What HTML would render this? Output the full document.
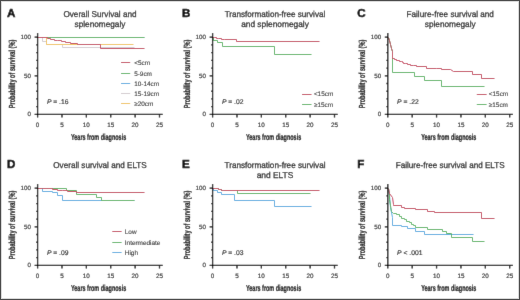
<!DOCTYPE html>
<html><head><meta charset="utf-8"><style>
html,body{margin:0;padding:0;background:#fff;}
body{width:520px;height:300px;overflow:hidden;}
svg{display:block;font-family:"Liberation Sans", sans-serif;will-change:transform;text-rendering:geometricPrecision;}
</style></head><body>
<svg width="520" height="300" viewBox="0 0 520 300">
<defs><filter id="bl" x="0" y="0" width="100%" height="100%"><feConvolveMatrix order="3" kernelMatrix="0.00524 0.06192 0.00524 0.06192 0.73137 0.06192 0.00524 0.06192 0.00524" edgeMode="duplicate" preserveAlpha="true"/></filter></defs>
<rect x="0" y="0" width="520" height="300" fill="#fff"/>
<g filter="url(#bl)">
<rect x="0" y="0" width="520" height="300" fill="#fff"/>
<g transform="translate(0,0)">
<text x="7.1" y="16.8" font-size="11.6" font-weight="bold" fill="#000" stroke="#000" stroke-width="0.5">A</text>
<text x="100" y="17.4" font-size="8.5" text-anchor="middle" fill="#1a1a1a" stroke="#1a1a1a" stroke-width="0.25" textLength="73.2" lengthAdjust="spacingAndGlyphs">Overall Survival and</text>
<text x="100" y="27.0" font-size="8.5" text-anchor="middle" fill="#1a1a1a" stroke="#1a1a1a" stroke-width="0.25" textLength="50.8" lengthAdjust="spacingAndGlyphs">splenomegaly</text>
<text transform="translate(14.5,74.0) rotate(-90)" x="0" y="0" font-size="8.8" font-weight="bold" text-anchor="middle" fill="#111" stroke="#111" stroke-width="0.26" textLength="68.5" lengthAdjust="spacingAndGlyphs">Probability of survival (%)</text>
<text x="98.6" y="139.6" font-size="8.7" font-weight="bold" text-anchor="middle" fill="#111" stroke="#111" stroke-width="0.24" textLength="55.2" lengthAdjust="spacingAndGlyphs">Years from diagnosis</text>
<text x="30.9" y="39.2" font-size="6.2" text-anchor="end" fill="#222" stroke="#222" stroke-width="0.16">100</text>
<text x="30.9" y="77.8" font-size="6.2" text-anchor="end" fill="#222" stroke="#222" stroke-width="0.16">50</text>
<text x="30.9" y="116.4" font-size="6.2" text-anchor="end" fill="#222" stroke="#222" stroke-width="0.16">0</text>
<text x="37.60" y="126.5" font-size="6.3" text-anchor="middle" fill="#222" stroke="#222" stroke-width="0.16">0</text>
<text x="61.98" y="126.5" font-size="6.3" text-anchor="middle" fill="#222" stroke="#222" stroke-width="0.16">5</text>
<text x="86.36" y="126.5" font-size="6.3" text-anchor="middle" fill="#222" stroke="#222" stroke-width="0.16">10</text>
<text x="110.74" y="126.5" font-size="6.3" text-anchor="middle" fill="#222" stroke="#222" stroke-width="0.16">15</text>
<text x="135.12" y="126.5" font-size="6.3" text-anchor="middle" fill="#222" stroke="#222" stroke-width="0.16">20</text>
<text x="159.50" y="126.5" font-size="6.3" text-anchor="middle" fill="#222" stroke="#222" stroke-width="0.16">25</text>
<path d="M 37.50,37.50 H 144.50" fill="none" stroke="#52abe0" stroke-width="0.8"/>
<path d="M 37.50,37.50 H 144.50" fill="none" stroke="#55b45f" stroke-width="1.1"/>
<path d="M 37.50,37.50 H 42.50 V 41.50 H 46.50 V 44.50 H 62.50 V 47.50 H 134.50" fill="none" stroke="#d4ccd0" stroke-width="1.0"/>
<path d="M 37.50,37.50 H 46.50 V 44.50 H 133.50" fill="none" stroke="#f0c55a" stroke-width="1.0"/>
<path d="M 37.50,37.50 H 47.50 V 38.50 H 50.50 V 39.50 H 54.50 V 40.50 H 57.50 V 40.50 H 61.50 V 41.50 H 65.50 V 42.50 H 70.50 V 43.50 H 77.50 V 44.50 H 100.50 V 48.50 H 144.50" fill="none" stroke="#c53a58" stroke-width="1.0"/>
<path d="M37.6,33 V117.5 M34.6,114.4 H162.7 M34.6,114.40 H37.6 M34.6,75.80 H37.6 M34.6,37.20 H37.6 M36.2,106.68 H37.6 M36.2,98.96 H37.6 M36.2,91.24 H37.6 M36.2,83.52 H37.6 M36.2,68.08 H37.6 M36.2,60.36 H37.6 M36.2,52.64 H37.6 M36.2,44.92 H37.6 M61.98,114.4 V117.4 M86.36,114.4 V117.4 M110.74,114.4 V117.4 M135.12,114.4 V117.4 M159.50,114.4 V117.4" fill="none" stroke="#000" stroke-width="1.3"/>
<text x="46.9" y="103.7" font-size="6.75" fill="#1a1a1a" stroke="#1a1a1a" stroke-width="0.15"><tspan font-style="italic">P</tspan> = .16</text>
<path d="M121,62.5 H130.2" stroke="#c53a58" stroke-width="1"/>
<text x="134.2" y="65.3" font-size="6.4" fill="#2a2a2a" stroke="#2a2a2a" stroke-width="0.1">&lt;5cm</text>
<path d="M121,73.5 H130.2" stroke="#55b45f" stroke-width="1"/>
<text x="134.2" y="75.60000000000001" font-size="6.4" fill="#2a2a2a" stroke="#2a2a2a" stroke-width="0.1">5-9cm</text>
<path d="M121,83.5 H130.2" stroke="#52abe0" stroke-width="1"/>
<text x="134.2" y="85.80000000000001" font-size="6.4" fill="#2a2a2a" stroke="#2a2a2a" stroke-width="0.1">10-14cm</text>
<path d="M121,93.5 H130.2" stroke="#d4ccd0" stroke-width="1"/>
<text x="134.2" y="96.10000000000001" font-size="6.4" fill="#2a2a2a" stroke="#2a2a2a" stroke-width="0.1">15-19cm</text>
<path d="M121,103.5 H130.2" stroke="#f0c55a" stroke-width="1"/>
<text x="134.2" y="106.30000000000001" font-size="6.4" fill="#2a2a2a" stroke="#2a2a2a" stroke-width="0.1">≥20cm</text>
</g>
<g transform="translate(175,0)">
<text x="7.1" y="16.8" font-size="11.6" font-weight="bold" fill="#000" stroke="#000" stroke-width="0.5">B</text>
<text x="100" y="17.4" font-size="8.5" text-anchor="middle" fill="#1a1a1a" stroke="#1a1a1a" stroke-width="0.25" textLength="100.6" lengthAdjust="spacingAndGlyphs">Transformation-free survival</text>
<text x="100" y="27.0" font-size="8.5" text-anchor="middle" fill="#1a1a1a" stroke="#1a1a1a" stroke-width="0.25" textLength="67.7" lengthAdjust="spacingAndGlyphs">and splenomegaly</text>
<text transform="translate(14.5,74.0) rotate(-90)" x="0" y="0" font-size="8.8" font-weight="bold" text-anchor="middle" fill="#111" stroke="#111" stroke-width="0.26" textLength="68.5" lengthAdjust="spacingAndGlyphs">Probability of survival (%)</text>
<text x="98.6" y="139.6" font-size="8.7" font-weight="bold" text-anchor="middle" fill="#111" stroke="#111" stroke-width="0.24" textLength="55.2" lengthAdjust="spacingAndGlyphs">Years from diagnosis</text>
<text x="30.9" y="39.2" font-size="6.2" text-anchor="end" fill="#222" stroke="#222" stroke-width="0.16">100</text>
<text x="30.9" y="77.8" font-size="6.2" text-anchor="end" fill="#222" stroke="#222" stroke-width="0.16">50</text>
<text x="30.9" y="116.4" font-size="6.2" text-anchor="end" fill="#222" stroke="#222" stroke-width="0.16">0</text>
<text x="37.60" y="126.5" font-size="6.3" text-anchor="middle" fill="#222" stroke="#222" stroke-width="0.16">0</text>
<text x="61.98" y="126.5" font-size="6.3" text-anchor="middle" fill="#222" stroke="#222" stroke-width="0.16">5</text>
<text x="86.36" y="126.5" font-size="6.3" text-anchor="middle" fill="#222" stroke="#222" stroke-width="0.16">10</text>
<text x="110.74" y="126.5" font-size="6.3" text-anchor="middle" fill="#222" stroke="#222" stroke-width="0.16">15</text>
<text x="135.12" y="126.5" font-size="6.3" text-anchor="middle" fill="#222" stroke="#222" stroke-width="0.16">20</text>
<text x="159.50" y="126.5" font-size="6.3" text-anchor="middle" fill="#222" stroke="#222" stroke-width="0.16">25</text>
<path d="M 37.50,37.50 H 38.50 V 40.50 H 42.50 V 42.50 H 47.50 V 46.50 H 99.50 V 54.50 H 136.50" fill="none" stroke="#55b45f" stroke-width="1.0"/>
<path d="M 37.50,37.50 H 39.50 V 37.50 H 41.50 V 38.50 H 43.50 V 38.50 H 46.50 V 39.50 H 49.50 V 39.50 H 61.50 V 41.50 H 144.50" fill="none" stroke="#c53a58" stroke-width="1.0"/>
<path d="M37.6,33 V117.5 M34.6,114.4 H162.7 M34.6,114.40 H37.6 M34.6,75.80 H37.6 M34.6,37.20 H37.6 M36.2,106.68 H37.6 M36.2,98.96 H37.6 M36.2,91.24 H37.6 M36.2,83.52 H37.6 M36.2,68.08 H37.6 M36.2,60.36 H37.6 M36.2,52.64 H37.6 M36.2,44.92 H37.6 M61.98,114.4 V117.4 M86.36,114.4 V117.4 M110.74,114.4 V117.4 M135.12,114.4 V117.4 M159.50,114.4 V117.4" fill="none" stroke="#000" stroke-width="1.3"/>
<text x="46.9" y="103.7" font-size="6.75" fill="#1a1a1a" stroke="#1a1a1a" stroke-width="0.15"><tspan font-style="italic">P</tspan> = .02</text>
<path d="M127,94.5 H136.5" stroke="#c53a58" stroke-width="1"/>
<text x="138.9" y="96.4" font-size="6.4" fill="#2a2a2a" stroke="#2a2a2a" stroke-width="0.1">&lt;15cm</text>
<path d="M127,104.5 H136.5" stroke="#55b45f" stroke-width="1"/>
<text x="138.9" y="106.80000000000001" font-size="6.4" fill="#2a2a2a" stroke="#2a2a2a" stroke-width="0.1">≥15cm</text>
</g>
<g transform="translate(350.2,0)">
<text x="7.1" y="16.8" font-size="11.6" font-weight="bold" fill="#000" stroke="#000" stroke-width="0.5">C</text>
<text x="100" y="17.4" font-size="8.5" text-anchor="middle" fill="#1a1a1a" stroke="#1a1a1a" stroke-width="0.25" textLength="87.3" lengthAdjust="spacingAndGlyphs">Failure-free survival and</text>
<text x="100" y="27.0" font-size="8.5" text-anchor="middle" fill="#1a1a1a" stroke="#1a1a1a" stroke-width="0.25" textLength="50.8" lengthAdjust="spacingAndGlyphs">splenomegaly</text>
<text transform="translate(14.5,74.0) rotate(-90)" x="0" y="0" font-size="8.8" font-weight="bold" text-anchor="middle" fill="#111" stroke="#111" stroke-width="0.26" textLength="68.5" lengthAdjust="spacingAndGlyphs">Probability of survival (%)</text>
<text x="98.6" y="139.6" font-size="8.7" font-weight="bold" text-anchor="middle" fill="#111" stroke="#111" stroke-width="0.24" textLength="55.2" lengthAdjust="spacingAndGlyphs">Years from diagnosis</text>
<text x="30.9" y="39.2" font-size="6.2" text-anchor="end" fill="#222" stroke="#222" stroke-width="0.16">100</text>
<text x="30.9" y="77.8" font-size="6.2" text-anchor="end" fill="#222" stroke="#222" stroke-width="0.16">50</text>
<text x="30.9" y="116.4" font-size="6.2" text-anchor="end" fill="#222" stroke="#222" stroke-width="0.16">0</text>
<text x="37.60" y="126.5" font-size="6.3" text-anchor="middle" fill="#222" stroke="#222" stroke-width="0.16">0</text>
<text x="61.98" y="126.5" font-size="6.3" text-anchor="middle" fill="#222" stroke="#222" stroke-width="0.16">5</text>
<text x="86.36" y="126.5" font-size="6.3" text-anchor="middle" fill="#222" stroke="#222" stroke-width="0.16">10</text>
<text x="110.74" y="126.5" font-size="6.3" text-anchor="middle" fill="#222" stroke="#222" stroke-width="0.16">15</text>
<text x="135.12" y="126.5" font-size="6.3" text-anchor="middle" fill="#222" stroke="#222" stroke-width="0.16">20</text>
<text x="159.50" y="126.5" font-size="6.3" text-anchor="middle" fill="#222" stroke="#222" stroke-width="0.16">25</text>
<path d="M 38.30,37.50 L 39.30,40.50 L 40.30,44.50 L 41.30,48.50 L 42.30,51.50 V 72.50 H 64.30 V 76.50 H 74.30 V 80.50 H 91.30 V 86.50 H 134.30" fill="none" stroke="#55b45f" stroke-width="1.0"/>
<path d="M 38.30,37.50 L 39.30,40.50 L 40.30,44.50 L 41.30,48.50 L 42.30,51.50 L 42.30,58.50 H 44.30 V 59.50 H 46.30 V 60.50 H 49.30 V 61.50 H 51.30 V 61.50 H 52.30 V 62.50 H 53.30 V 63.50 H 55.30 V 63.50 H 57.30 V 64.50 H 60.30 V 65.50 H 63.30 V 65.50 H 66.30 V 66.50 H 76.30 V 68.50 H 86.30 V 68.50 H 91.30 V 69.50 H 100.30 V 69.50 L 103.30,71.50 H 122.30 V 74.50 H 131.30 V 78.50 H 144.30" fill="none" stroke="#c53a58" stroke-width="1.0"/>
<path d="M37.6,33 V117.5 M34.6,114.4 H162.7 M34.6,114.40 H37.6 M34.6,75.80 H37.6 M34.6,37.20 H37.6 M36.2,106.68 H37.6 M36.2,98.96 H37.6 M36.2,91.24 H37.6 M36.2,83.52 H37.6 M36.2,68.08 H37.6 M36.2,60.36 H37.6 M36.2,52.64 H37.6 M36.2,44.92 H37.6 M61.98,114.4 V117.4 M86.36,114.4 V117.4 M110.74,114.4 V117.4 M135.12,114.4 V117.4 M159.50,114.4 V117.4" fill="none" stroke="#000" stroke-width="1.3"/>
<text x="46.9" y="103.7" font-size="6.75" fill="#1a1a1a" stroke="#1a1a1a" stroke-width="0.15"><tspan font-style="italic">P</tspan> = .22</text>
<path d="M126.6,94.5 H136.4" stroke="#c53a58" stroke-width="1"/>
<text x="138.6" y="96.4" font-size="6.4" fill="#2a2a2a" stroke="#2a2a2a" stroke-width="0.1">&lt;15cm</text>
<path d="M126.6,104.5 H136.4" stroke="#55b45f" stroke-width="1"/>
<text x="138.6" y="106.80000000000001" font-size="6.4" fill="#2a2a2a" stroke="#2a2a2a" stroke-width="0.1">≥15cm</text>
</g>
<g transform="translate(0,151)">
<text x="7.1" y="16.8" font-size="11.6" font-weight="bold" fill="#000" stroke="#000" stroke-width="0.5">D</text>
<text x="100" y="17.4" font-size="8.5" text-anchor="middle" fill="#1a1a1a" stroke="#1a1a1a" stroke-width="0.25" textLength="93.4" lengthAdjust="spacingAndGlyphs">Overall survival and ELTS</text>
<text transform="translate(14.5,74.0) rotate(-90)" x="0" y="0" font-size="8.8" font-weight="bold" text-anchor="middle" fill="#111" stroke="#111" stroke-width="0.26" textLength="68.5" lengthAdjust="spacingAndGlyphs">Probability of survival (%)</text>
<text x="98.6" y="139.6" font-size="8.7" font-weight="bold" text-anchor="middle" fill="#111" stroke="#111" stroke-width="0.24" textLength="55.2" lengthAdjust="spacingAndGlyphs">Years from diagnosis</text>
<text x="30.9" y="39.2" font-size="6.2" text-anchor="end" fill="#222" stroke="#222" stroke-width="0.16">100</text>
<text x="30.9" y="77.8" font-size="6.2" text-anchor="end" fill="#222" stroke="#222" stroke-width="0.16">50</text>
<text x="30.9" y="116.4" font-size="6.2" text-anchor="end" fill="#222" stroke="#222" stroke-width="0.16">0</text>
<text x="37.60" y="126.5" font-size="6.3" text-anchor="middle" fill="#222" stroke="#222" stroke-width="0.16">0</text>
<text x="61.98" y="126.5" font-size="6.3" text-anchor="middle" fill="#222" stroke="#222" stroke-width="0.16">5</text>
<text x="86.36" y="126.5" font-size="6.3" text-anchor="middle" fill="#222" stroke="#222" stroke-width="0.16">10</text>
<text x="110.74" y="126.5" font-size="6.3" text-anchor="middle" fill="#222" stroke="#222" stroke-width="0.16">15</text>
<text x="135.12" y="126.5" font-size="6.3" text-anchor="middle" fill="#222" stroke="#222" stroke-width="0.16">20</text>
<text x="159.50" y="126.5" font-size="6.3" text-anchor="middle" fill="#222" stroke="#222" stroke-width="0.16">25</text>
<path d="M 37.50,37.50 H 42.50 V 40.50 H 52.50 V 41.50 H 57.50 V 44.50 H 62.50 V 49.50 H 134.50" fill="none" stroke="#52abe0" stroke-width="1.0"/>
<path d="M 37.50,37.50 H 66.50 V 39.50 H 76.50 V 43.50 H 96.50 V 46.50 H 101.50 V 49.50 H 134.50" fill="none" stroke="#55b45f" stroke-width="1.0"/>
<path d="M 37.50,37.50 H 42.50 V 37.50 H 47.50 V 37.50 H 52.50 V 38.50 H 57.50 V 39.50 H 62.50 V 39.50 H 67.50 V 40.50 H 76.50 V 41.50 H 144.50" fill="none" stroke="#c53a58" stroke-width="1.0"/>
<path d="M37.6,33 V117.5 M34.6,114.4 H162.7 M34.6,114.40 H37.6 M34.6,75.80 H37.6 M34.6,37.20 H37.6 M36.2,106.68 H37.6 M36.2,98.96 H37.6 M36.2,91.24 H37.6 M36.2,83.52 H37.6 M36.2,68.08 H37.6 M36.2,60.36 H37.6 M36.2,52.64 H37.6 M36.2,44.92 H37.6 M61.98,114.4 V117.4 M86.36,114.4 V117.4 M110.74,114.4 V117.4 M135.12,114.4 V117.4 M159.50,114.4 V117.4" fill="none" stroke="#000" stroke-width="1.3"/>
<text x="46.9" y="103.7" font-size="6.75" fill="#1a1a1a" stroke="#1a1a1a" stroke-width="0.15"><tspan font-style="italic">P</tspan> = .09</text>
<path d="M112.3,80.5 H121.6" stroke="#c53a58" stroke-width="1"/>
<text x="124.8" y="82.9" font-size="6.4" fill="#2a2a2a" stroke="#2a2a2a" stroke-width="0.1">Low</text>
<path d="M112.3,91.5 H121.6" stroke="#55b45f" stroke-width="1"/>
<text x="124.8" y="93.7" font-size="6.4" fill="#2a2a2a" stroke="#2a2a2a" stroke-width="0.1">Intermediate</text>
<path d="M112.3,101.5 H121.6" stroke="#52abe0" stroke-width="1"/>
<text x="124.8" y="103.80000000000001" font-size="6.4" fill="#2a2a2a" stroke="#2a2a2a" stroke-width="0.1">High</text>
</g>
<g transform="translate(175,151)">
<text x="7.1" y="16.8" font-size="11.6" font-weight="bold" fill="#000" stroke="#000" stroke-width="0.5">E</text>
<text x="100" y="17.4" font-size="8.5" text-anchor="middle" fill="#1a1a1a" stroke="#1a1a1a" stroke-width="0.25" textLength="101" lengthAdjust="spacingAndGlyphs">Transformation-free survival</text>
<text x="100" y="27.0" font-size="8.5" text-anchor="middle" fill="#1a1a1a" stroke="#1a1a1a" stroke-width="0.25" textLength="36.7" lengthAdjust="spacingAndGlyphs">and ELTS</text>
<text transform="translate(14.5,74.0) rotate(-90)" x="0" y="0" font-size="8.8" font-weight="bold" text-anchor="middle" fill="#111" stroke="#111" stroke-width="0.26" textLength="68.5" lengthAdjust="spacingAndGlyphs">Probability of survival (%)</text>
<text x="98.6" y="139.6" font-size="8.7" font-weight="bold" text-anchor="middle" fill="#111" stroke="#111" stroke-width="0.24" textLength="55.2" lengthAdjust="spacingAndGlyphs">Years from diagnosis</text>
<text x="30.9" y="39.2" font-size="6.2" text-anchor="end" fill="#222" stroke="#222" stroke-width="0.16">100</text>
<text x="30.9" y="77.8" font-size="6.2" text-anchor="end" fill="#222" stroke="#222" stroke-width="0.16">50</text>
<text x="30.9" y="116.4" font-size="6.2" text-anchor="end" fill="#222" stroke="#222" stroke-width="0.16">0</text>
<text x="37.60" y="126.5" font-size="6.3" text-anchor="middle" fill="#222" stroke="#222" stroke-width="0.16">0</text>
<text x="61.98" y="126.5" font-size="6.3" text-anchor="middle" fill="#222" stroke="#222" stroke-width="0.16">5</text>
<text x="86.36" y="126.5" font-size="6.3" text-anchor="middle" fill="#222" stroke="#222" stroke-width="0.16">10</text>
<text x="110.74" y="126.5" font-size="6.3" text-anchor="middle" fill="#222" stroke="#222" stroke-width="0.16">15</text>
<text x="135.12" y="126.5" font-size="6.3" text-anchor="middle" fill="#222" stroke="#222" stroke-width="0.16">20</text>
<text x="159.50" y="126.5" font-size="6.3" text-anchor="middle" fill="#222" stroke="#222" stroke-width="0.16">25</text>
<path d="M 37.50,37.50 H 38.50 V 39.50 H 42.50 V 41.50 H 46.50 V 43.50 H 59.50 V 49.50 H 99.50 V 55.50 H 136.50" fill="none" stroke="#52abe0" stroke-width="1.0"/>
<path d="M 37.50,37.50 H 40.50 V 37.50 H 43.50 V 38.50 H 46.50 V 39.50 H 48.50 V 39.50 H 62.50 V 42.50 H 135.50" fill="none" stroke="#55b45f" stroke-width="1.0"/>
<path d="M 37.50,37.50 H 40.50 V 37.50 H 43.50 V 38.50 H 46.50 V 39.50 H 48.50 V 39.50 H 144.50" fill="none" stroke="#c53a58" stroke-width="1.0"/>
<path d="M37.6,33 V117.5 M34.6,114.4 H162.7 M34.6,114.40 H37.6 M34.6,75.80 H37.6 M34.6,37.20 H37.6 M36.2,106.68 H37.6 M36.2,98.96 H37.6 M36.2,91.24 H37.6 M36.2,83.52 H37.6 M36.2,68.08 H37.6 M36.2,60.36 H37.6 M36.2,52.64 H37.6 M36.2,44.92 H37.6 M61.98,114.4 V117.4 M86.36,114.4 V117.4 M110.74,114.4 V117.4 M135.12,114.4 V117.4 M159.50,114.4 V117.4" fill="none" stroke="#000" stroke-width="1.3"/>
<text x="46.9" y="103.7" font-size="6.75" fill="#1a1a1a" stroke="#1a1a1a" stroke-width="0.15"><tspan font-style="italic">P</tspan> = .03</text>
</g>
<g transform="translate(350.2,151)">
<text x="7.1" y="16.8" font-size="11.6" font-weight="bold" fill="#000" stroke="#000" stroke-width="0.5">F</text>
<text x="100" y="17.4" font-size="8.5" text-anchor="middle" fill="#1a1a1a" stroke="#1a1a1a" stroke-width="0.25" textLength="108.8" lengthAdjust="spacingAndGlyphs">Failure-free survival and ELTS</text>
<text transform="translate(14.5,74.0) rotate(-90)" x="0" y="0" font-size="8.8" font-weight="bold" text-anchor="middle" fill="#111" stroke="#111" stroke-width="0.26" textLength="68.5" lengthAdjust="spacingAndGlyphs">Probability of survival (%)</text>
<text x="98.6" y="139.6" font-size="8.7" font-weight="bold" text-anchor="middle" fill="#111" stroke="#111" stroke-width="0.24" textLength="55.2" lengthAdjust="spacingAndGlyphs">Years from diagnosis</text>
<text x="30.9" y="39.2" font-size="6.2" text-anchor="end" fill="#222" stroke="#222" stroke-width="0.16">100</text>
<text x="30.9" y="77.8" font-size="6.2" text-anchor="end" fill="#222" stroke="#222" stroke-width="0.16">50</text>
<text x="30.9" y="116.4" font-size="6.2" text-anchor="end" fill="#222" stroke="#222" stroke-width="0.16">0</text>
<text x="37.60" y="126.5" font-size="6.3" text-anchor="middle" fill="#222" stroke="#222" stroke-width="0.16">0</text>
<text x="61.98" y="126.5" font-size="6.3" text-anchor="middle" fill="#222" stroke="#222" stroke-width="0.16">5</text>
<text x="86.36" y="126.5" font-size="6.3" text-anchor="middle" fill="#222" stroke="#222" stroke-width="0.16">10</text>
<text x="110.74" y="126.5" font-size="6.3" text-anchor="middle" fill="#222" stroke="#222" stroke-width="0.16">15</text>
<text x="135.12" y="126.5" font-size="6.3" text-anchor="middle" fill="#222" stroke="#222" stroke-width="0.16">20</text>
<text x="159.50" y="126.5" font-size="6.3" text-anchor="middle" fill="#222" stroke="#222" stroke-width="0.16">25</text>
<path d="M 38.30,37.50 L 39.30,44.50 L 40.30,56.50 L 42.30,66.50 L 42.30,74.50 H 51.30 V 75.50 H 57.30 V 77.50 H 65.30 V 80.50 H 74.30 V 83.50 H 123.30" fill="none" stroke="#52abe0" stroke-width="1.0"/>
<path d="M 38.30,37.50 L 39.30,44.50 L 39.30,48.50 L 41.30,60.50 L 43.30,62.50 H 46.30 V 63.50 H 49.30 V 65.50 H 51.30 V 67.50 H 54.30 V 68.50 H 56.30 V 70.50 H 59.30 V 71.50 H 61.30 V 73.50 H 63.30 V 74.50 H 65.30 V 76.50 H 77.30 V 78.50 H 92.30 V 80.50 H 96.30 V 82.50 H 101.30 V 86.50 H 122.30 V 90.50 H 134.30" fill="none" stroke="#55b45f" stroke-width="1.0"/>
<path d="M 38.30,37.50 L 39.30,42.50 L 42.30,46.50 L 43.30,53.50 V 54.50 H 51.30 V 56.50 H 54.30 V 57.50 H 65.30 V 58.50 H 77.30 V 60.50 H 84.30 V 61.50 H 131.30 V 67.50 H 144.30" fill="none" stroke="#c53a58" stroke-width="1.0"/>
<path d="M37.6,33 V117.5 M34.6,114.4 H162.7 M34.6,114.40 H37.6 M34.6,75.80 H37.6 M34.6,37.20 H37.6 M36.2,106.68 H37.6 M36.2,98.96 H37.6 M36.2,91.24 H37.6 M36.2,83.52 H37.6 M36.2,68.08 H37.6 M36.2,60.36 H37.6 M36.2,52.64 H37.6 M36.2,44.92 H37.6 M61.98,114.4 V117.4 M86.36,114.4 V117.4 M110.74,114.4 V117.4 M135.12,114.4 V117.4 M159.50,114.4 V117.4" fill="none" stroke="#000" stroke-width="1.3"/>
<text x="46.9" y="103.7" font-size="6.75" fill="#1a1a1a" stroke="#1a1a1a" stroke-width="0.15"><tspan font-style="italic">P</tspan> &lt; .001</text>
</g>
</g>
<rect x="1.5" y="1.5" width="517" height="297" fill="none" stroke="#dadada" stroke-width="1"/>
<rect x="0.5" y="0.5" width="519" height="299" fill="none" stroke="#4a4a4a" stroke-width="1"/>
</svg>
</body></html>
